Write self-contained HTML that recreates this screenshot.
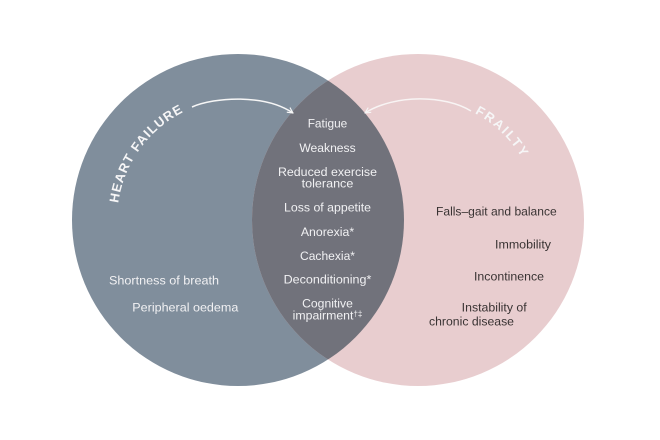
<!DOCTYPE html>
<html>
<head>
<meta charset="utf-8">
<style>
  html,body{margin:0;padding:0;background:#ffffff;}
  body{width:660px;height:440px;overflow:hidden;}
  svg{display:block;}
  .t{font-family:"Liberation Sans",sans-serif;font-size:12.3px;}
  .w{fill:#f1f1f3;}
  .d{fill:#393333;}
  .h{font-family:"Liberation Sans",sans-serif;font-weight:bold;font-size:13px;fill:#f6f6f7;}
</style>
</head>
<body>
<svg width="660" height="440" viewBox="0 0 660 440" xmlns="http://www.w3.org/2000/svg">
  <defs>
    <clipPath id="cl">
      <circle cx="238" cy="220" r="166"/>
    </clipPath>
    <marker id="ah" viewBox="0 0 10 10" refX="9" refY="5" markerWidth="7" markerHeight="7" markerUnits="userSpaceOnUse" orient="auto">
      <path d="M1,1 L9,5 L1,9" fill="none" stroke="#f6f6f6" stroke-width="1.6"/>
    </marker>
    <path id="hfPath" d="M118.2,203.2 A121,121 0 0 1 217,100.8"/>
    <path id="frPath" d="M474.8,113.2 A121,121 0 0 1 531.7,178.6"/>
  </defs>

  <rect width="660" height="440" fill="#ffffff"/>

  <!-- circles -->
  <circle cx="238" cy="220" r="166" fill="#808e9c"/>
  <circle cx="418" cy="220" r="166" fill="#e8cdcf"/>
  <circle cx="418" cy="220" r="166" fill="#71727b" clip-path="url(#cl)"/>

  <!-- arrows -->
  <path d="M192,107 C215,97 265,94 293,113" fill="none" stroke="#f6f6f6" stroke-width="1.5" marker-end="url(#ah)"/>
  <path d="M471,111 C445,95 395,94 365,113" fill="none" stroke="#f8f4f4" stroke-width="1.5" marker-end="url(#ah)"/>

  <!-- curved titles -->
  <text class="h" letter-spacing="1"><textPath href="#hfPath">HEART FAILURE</textPath></text>
  <text class="h" letter-spacing="1.8"><textPath href="#frPath">FRAILTY</textPath></text>

  <!-- center column -->
  <g class="t w" text-anchor="middle">
    <text x="327.5" y="127.3" textLength="39.6" lengthAdjust="spacingAndGlyphs">Fatigue</text>
    <text x="327.5" y="152" textLength="56.3" lengthAdjust="spacingAndGlyphs">Weakness</text>
    <text x="327.5" y="176" textLength="99" lengthAdjust="spacingAndGlyphs">Reduced exercise</text>
    <text x="327.5" y="187.5" textLength="51.7" lengthAdjust="spacingAndGlyphs">tolerance</text>
    <text x="327.5" y="211.7" textLength="87" lengthAdjust="spacingAndGlyphs">Loss of appetite</text>
    <text x="327.5" y="236" textLength="53.3" lengthAdjust="spacingAndGlyphs">Anorexia*</text>
    <text x="327.5" y="259.8" textLength="55" lengthAdjust="spacingAndGlyphs">Cachexia*</text>
    <text x="327.5" y="283.3" textLength="87.7" lengthAdjust="spacingAndGlyphs">Deconditioning*</text>
    <text x="327.5" y="307.5" textLength="50.7" lengthAdjust="spacingAndGlyphs">Cognitive</text>
    <text x="327.5" y="319.3" textLength="69.7" lengthAdjust="spacingAndGlyphs">impairment<tspan font-size="8" dy="-3">†‡</tspan></text>
  </g>

  <!-- left -->
  <g class="t w">
    <text x="109" y="284.3" textLength="110" lengthAdjust="spacingAndGlyphs">Shortness of breath</text>
    <text x="132.3" y="311.7" textLength="106" lengthAdjust="spacingAndGlyphs">Peripheral oedema</text>
  </g>

  <!-- right -->
  <g class="t d">
    <text x="436" y="215.7" textLength="120.7" lengthAdjust="spacingAndGlyphs">Falls–gait and balance</text>
    <text x="495" y="248.5" textLength="56" lengthAdjust="spacingAndGlyphs">Immobility</text>
    <text x="474" y="280.5" textLength="70" lengthAdjust="spacingAndGlyphs">Incontinence</text>
    <text x="461.7" y="311.7" textLength="65" lengthAdjust="spacingAndGlyphs">Instability of</text>
    <text x="429" y="325.5" textLength="85" lengthAdjust="spacingAndGlyphs">chronic disease</text>
  </g>
</svg>
</body>
</html>
